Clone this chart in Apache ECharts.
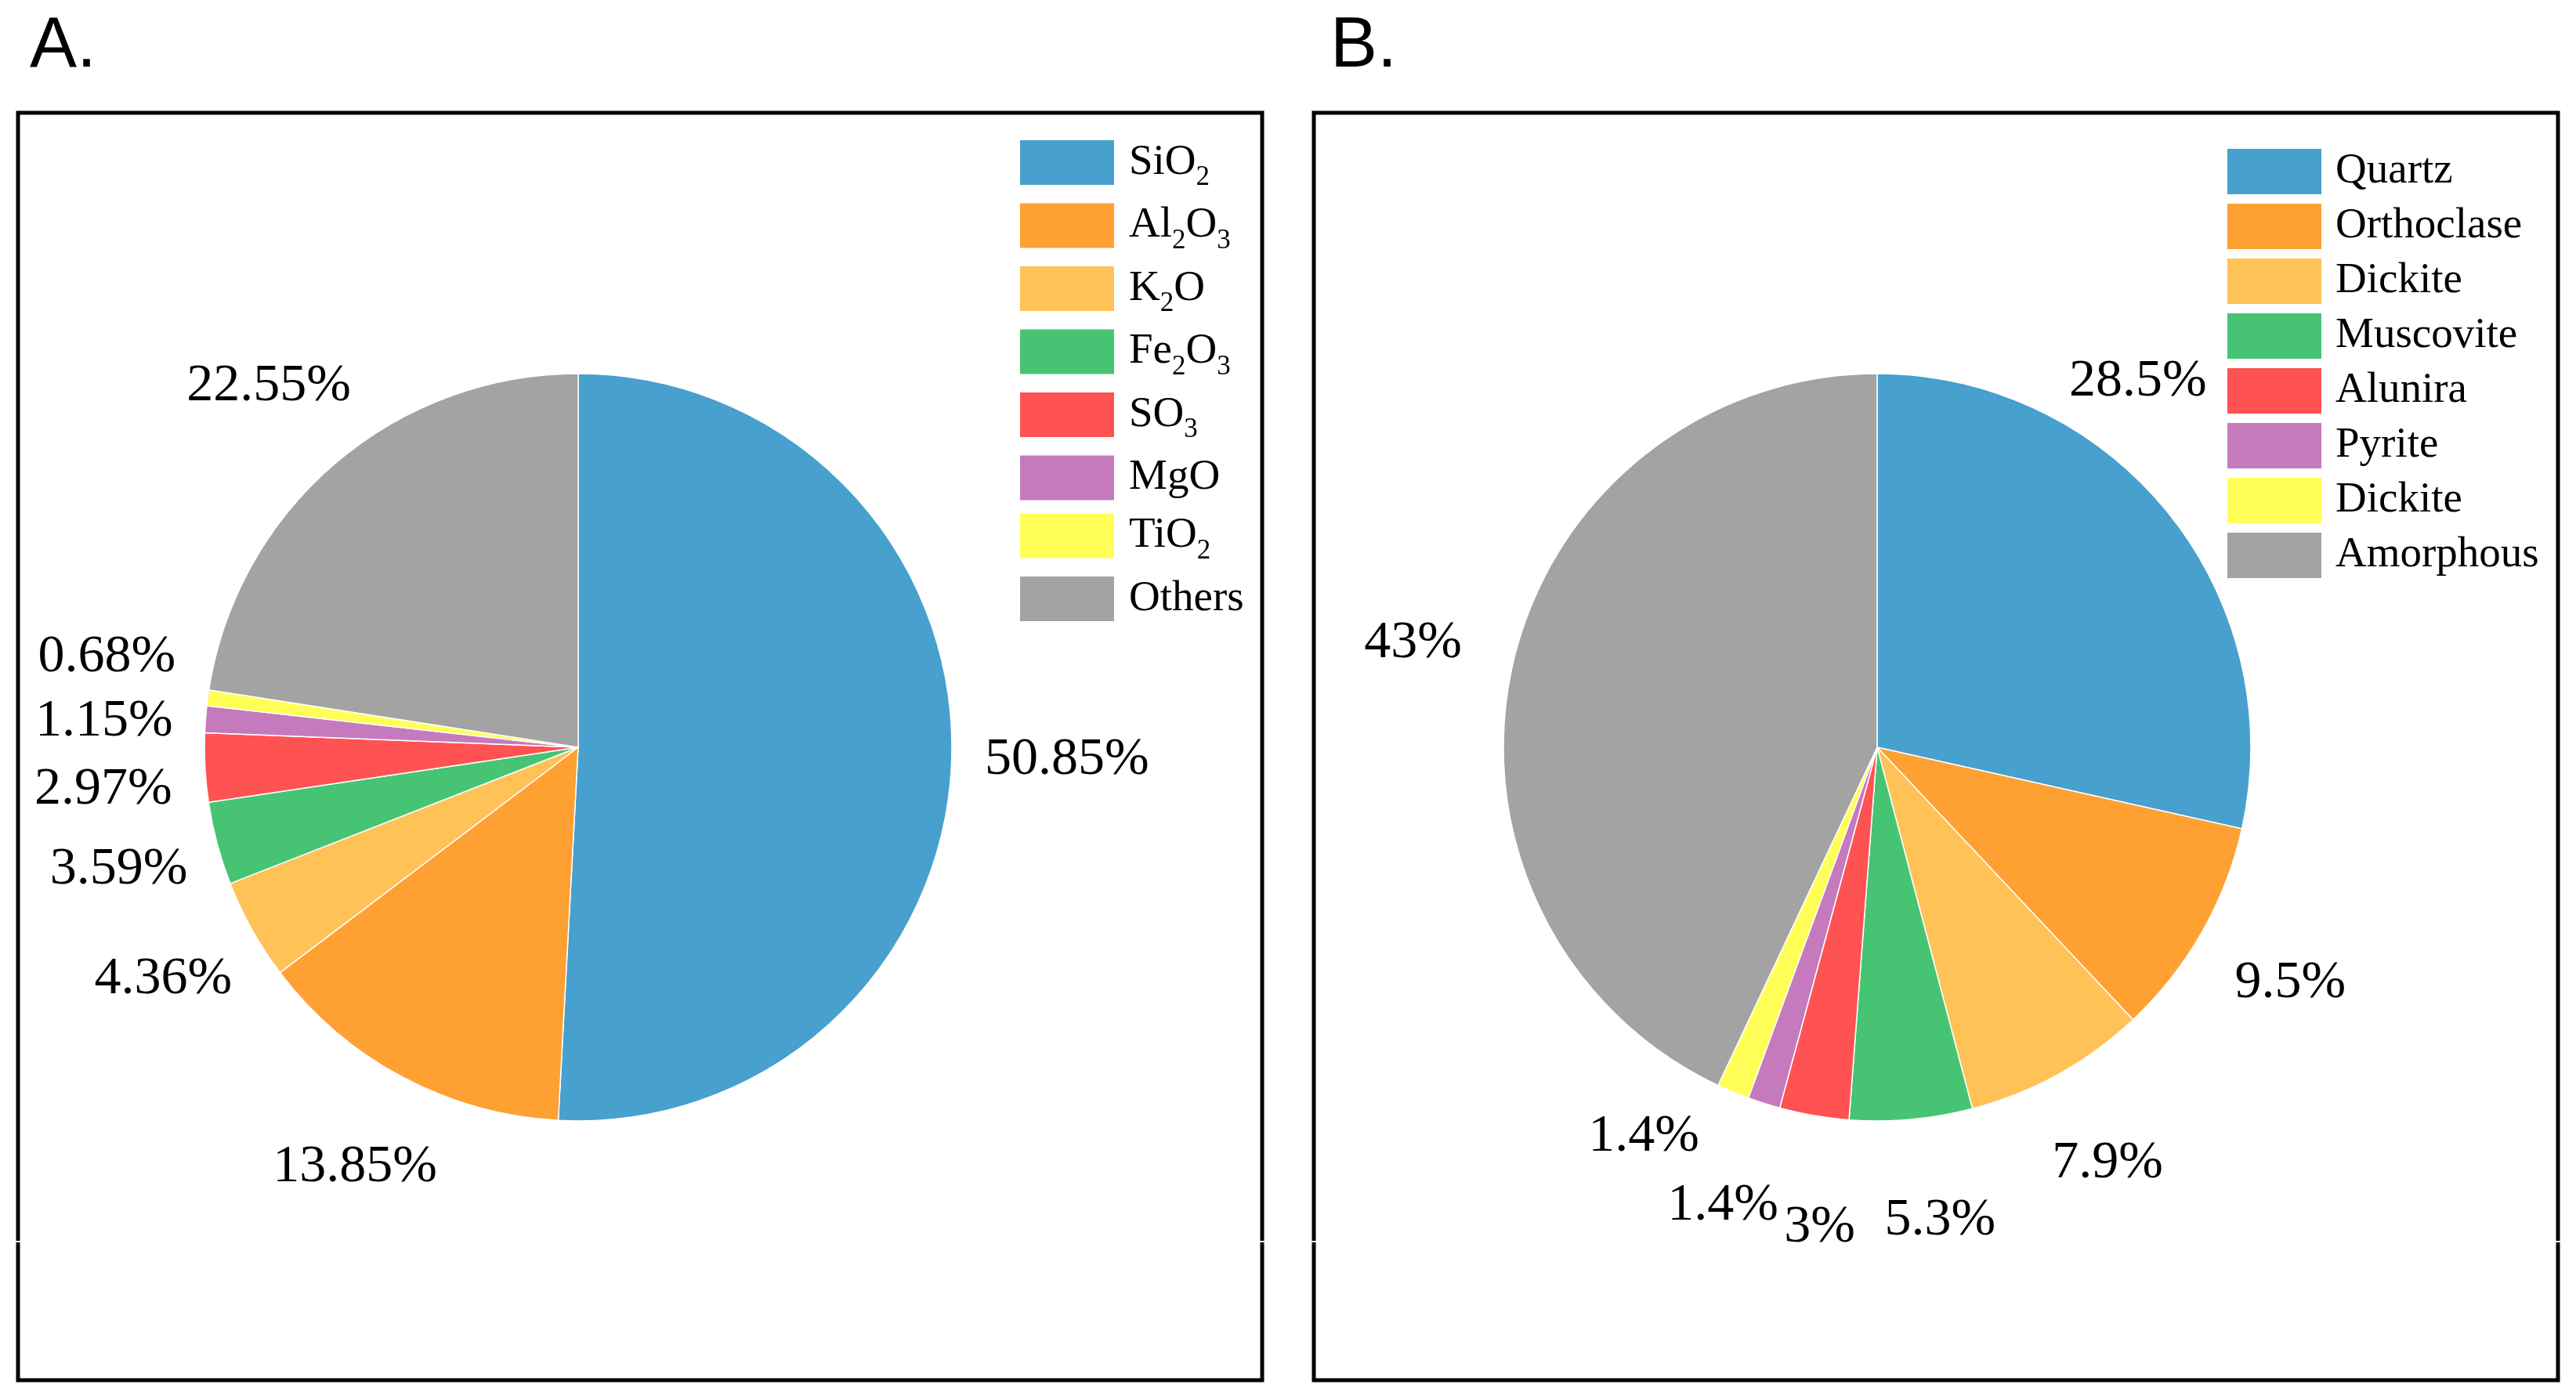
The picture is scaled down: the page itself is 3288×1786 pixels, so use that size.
<!DOCTYPE html>
<html>
<head>
<meta charset="utf-8">
<script src="https://cdn.jsdelivr.net/npm/echarts@6/dist/echarts.min.js"></script>
<style>
html, body { margin: 0; padding: 0; background: #fff; }
#chart { width: 3288px; height: 1786px; }
</style>
</head>
<body>
<div id="chart"></div>
<script>
// ---- Data ----
const oxideNames = ['SiO2', 'Al2O3', 'K2O', 'Fe2O3', 'SO3', 'MgO', 'TiO2', 'Others'];
const oxideValues = [50.85, 13.85, 4.36, 3.59, 2.97, 1.15, 0.68, 22.55];
const mineralNames = ['Quartz', 'Orthoclase', 'Dickite', 'Muscovite', 'Alunira', 'Pyrite', 'Dickite', 'Amorphous'];
const mineralValues = [28.5, 9.5, 7.9, 5.3, 3, 1.4, 1.4, 43];
const sliceColors = ['#47A0CD', '#FFA033', '#FFC257', '#46C473', '#FF5252', '#C47ABD', '#FFFF57', '#A3A3A3'];

// Manual label adjustments (by data index), as the original figure moved crowded labels apart
const labelNudgeA = { 0: [17, 0], 4: [0, 21], 5: [0, 13], 6: [0, -35] };
const labelNudgeB = { 0: [-141, -87], 3: [25, 0], 4: [29, 15], 5: [-13, 7], 6: [-64, -63] };

// duplicate names (e.g. two "Dickite") get an invisible trailing space so both legend entries show
function uniqueNames(names) {
  const seen = {};
  return names.map(n => {
    let k = n;
    while (seen[k]) k += ' ';
    seen[k] = true;
    return k;
  });
}
const namesA = uniqueNames(oxideNames);
const namesB = uniqueNames(mineralNames);
const dataA = namesA.map((n, i) => ({ name: n, value: oxideValues[i] }));
const dataB = namesB.map((n, i) => ({ name: n, value: mineralValues[i] }));

const SERIF = 'Liberation Serif';

function chemFormatter(name) {
  const parts = name.trim().split(/(\d+)/).filter(s => s.length);
  return parts.map(p => /^\d+$/.test(p) ? '{s|' + p + '}' : '{n|' + p + '}').join('');
}
function plainFormatter(name) {
  return '{n|' + name.trim() + '}';
}

const legendRich = {
  n: { fontFamily: SERIF, fontSize: 55, color: '#000', lineHeight: 59 },
  s: { fontFamily: SERIF, fontSize: 35, color: '#000', height: 20, lineHeight: 20, verticalAlign: 'bottom' }
};

const R = 477;
const labelCommon = {
  show: true,
  position: 'outside',
  formatter: '{v|{c}%}',
  width: 120,
  overflow: 'none',
  lineHeight: 80,
  distanceToLabelLine: 0,
  rich: {
    v: { align: 'center', fontFamily: SERIF, fontSize: 68, color: '#000', lineHeight: 80 }
  }
};
const labelLineCommon = { show: false, length: 130, length2: -60 };

function nudger(table) {
  return function (params) {
    const n = table[params.dataIndex];
    return n ? { dx: n[0], dy: n[1] } : {};
  };
}

// small white breaks seen on the frame sides in the original
const frameBreaks = [23, 1611, 1677, 3265].map(x => ({
  type: 'line', silent: true, z: 10,
  shape: { x1: x - 5, y1: 1585, x2: x + 5, y2: 1585 },
  style: { stroke: '#fff', lineWidth: 2 }
}));

const option = {
  animation: false,
  backgroundColor: '#fff',
  color: sliceColors,
  title: [
    { text: 'A.', left: 38, top: 15, padding: 0,
      textStyle: { fontFamily: 'Liberation Sans', fontSize: 90, fontWeight: 'normal', color: '#000' } },
    { text: 'B.', left: 1698, top: 15, padding: 0,
      textStyle: { fontFamily: 'Liberation Sans', fontSize: 90, fontWeight: 'normal', color: '#000' } }
  ],
  graphic: [
    { type: 'rect', shape: { x: 23, y: 144, width: 1588, height: 1618 },
      style: { fill: 'none', stroke: '#000', lineWidth: 5 }, silent: true },
    { type: 'rect', shape: { x: 1677, y: 144, width: 1588, height: 1618 },
      style: { fill: 'none', stroke: '#000', lineWidth: 5 }, silent: true }
  ].concat(frameBreaks),
  legend: [
    {
      data: namesA,
      orient: 'vertical',
      left: 1300, top: 177,
      padding: 0,
      itemWidth: 122, itemHeight: 59, itemGap: 13,
      icon: 'rect',
      formatter: chemFormatter,
      textStyle: { padding: [0, 0, 0, 13], rich: legendRich },
      selectedMode: false
    },
    {
      data: namesB,
      orient: 'vertical',
      left: 2841, top: 188,
      padding: 0,
      itemWidth: 122, itemHeight: 60, itemGap: 8,
      icon: 'rect',
      formatter: plainFormatter,
      textStyle: { padding: [0, 0, 0, 12], rich: legendRich },
      selectedMode: false
    }
  ],
  series: [
    {
      name: 'A',
      type: 'pie',
      center: [738, 954],
      radius: [0, R],
      startAngle: 90,
      clockwise: true,
      avoidLabelOverlap: false,
      data: dataA,
      itemStyle: { borderColor: '#fff', borderWidth: 1.5 },
      label: labelCommon,
      labelLine: labelLineCommon,
      labelLayout: nudger(labelNudgeA),
      emphasis: { disabled: true },
      silent: true
    },
    {
      name: 'B',
      type: 'pie',
      center: [2396, 954],
      radius: [0, R],
      startAngle: 90,
      clockwise: true,
      avoidLabelOverlap: false,
      data: dataB,
      itemStyle: { borderColor: '#fff', borderWidth: 1.5 },
      label: labelCommon,
      labelLine: labelLineCommon,
      labelLayout: nudger(labelNudgeB),
      emphasis: { disabled: true },
      silent: true
    }
  ]
};

const chart = echarts.init(document.getElementById('chart'), null, { renderer: 'canvas' });
chart.setOption(option);
</script>
</body>
</html>
